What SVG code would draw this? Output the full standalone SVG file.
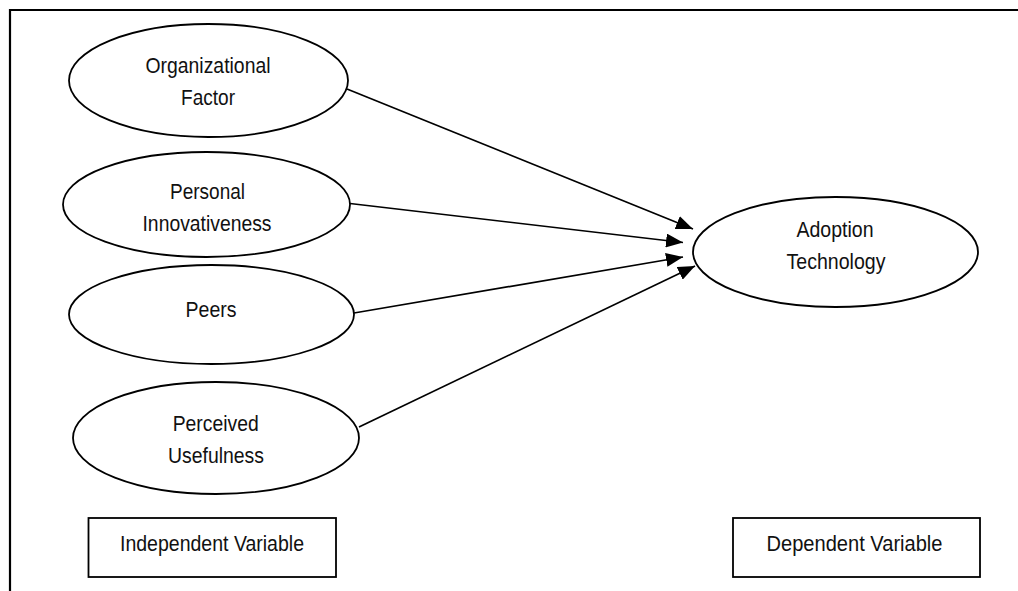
<svg xmlns="http://www.w3.org/2000/svg" width="1018" height="591" viewBox="0 0 1018 591">
<defs>
<marker id="arr" viewBox="0 0 17 14" refX="17" refY="7" markerWidth="17" markerHeight="14" markerUnits="userSpaceOnUse" orient="auto">
<path d="M0,0 L17,7 L0,14 Z" fill="#000"/>
</marker>
</defs>
<style>
.node{fill:#fff;stroke:#000;stroke-width:1.8}
.box{fill:#fff;stroke:#000;stroke-width:1.8}
.t{font-family:"Liberation Sans",Arial,sans-serif;font-size:22.5px;fill:#111;text-anchor:middle}
.edge{stroke:#000;stroke-width:1.7;fill:none;marker-end:url(#arr)}
</style>
<rect width="1018" height="591" fill="#fff"/>
<path d="M10,595 V10 H1022" fill="none" stroke="#000" stroke-width="2.2"/>
<g id="connectors">
<line class="edge" x1="347" y1="89" x2="693" y2="229"/>
<line class="edge" x1="350" y1="203.5" x2="683" y2="242.5"/>
<line class="edge" x1="354" y1="313" x2="683" y2="257"/>
<line class="edge" x1="359" y1="427" x2="695" y2="266"/>
</g>
<g id="organizational-factor">
<ellipse class="node" cx="208.5" cy="80.5" rx="139.5" ry="56.5"/>
<text class="t" x="208" y="72.5" textLength="125" lengthAdjust="spacingAndGlyphs">Organizational</text>
<text class="t" x="208" y="105" textLength="54" lengthAdjust="spacingAndGlyphs">Factor</text>
</g>
<g id="personal-innovativeness">
<ellipse class="node" cx="206.5" cy="204.5" rx="143.5" ry="52.5"/>
<text class="t" x="207.5" y="199" textLength="75" lengthAdjust="spacingAndGlyphs">Personal</text>
<text class="t" x="207" y="231" textLength="129" lengthAdjust="spacingAndGlyphs">Innovativeness</text>
</g>
<g id="peers">
<ellipse class="node" cx="211.5" cy="314.5" rx="142.5" ry="49.5"/>
<text class="t" x="211" y="316.5" textLength="51" lengthAdjust="spacingAndGlyphs">Peers</text>
</g>
<g id="perceived-usefulness">
<ellipse class="node" cx="216" cy="438" rx="143" ry="56"/>
<text class="t" x="215.7" y="431" textLength="86" lengthAdjust="spacingAndGlyphs">Perceived</text>
<text class="t" x="216" y="462.5" textLength="96" lengthAdjust="spacingAndGlyphs">Usefulness</text>
</g>
<g id="adoption-technology">
<ellipse class="node" cx="835.5" cy="252" rx="142.5" ry="55"/>
<text class="t" x="835" y="236.5" textLength="77" lengthAdjust="spacingAndGlyphs">Adoption</text>
<text class="t" x="836" y="269" textLength="99" lengthAdjust="spacingAndGlyphs">Technology</text>
</g>
<g id="independent-variable">
<rect class="box" x="88.5" y="518" width="247.5" height="59"/>
<text class="t" x="212" y="551" textLength="184" lengthAdjust="spacingAndGlyphs">Independent Variable</text>
</g>
<g id="dependent-variable">
<rect class="box" x="733" y="518" width="247" height="59"/>
<text class="t" x="854.5" y="550.5" textLength="176" lengthAdjust="spacingAndGlyphs">Dependent Variable</text>
</g>
</svg>
